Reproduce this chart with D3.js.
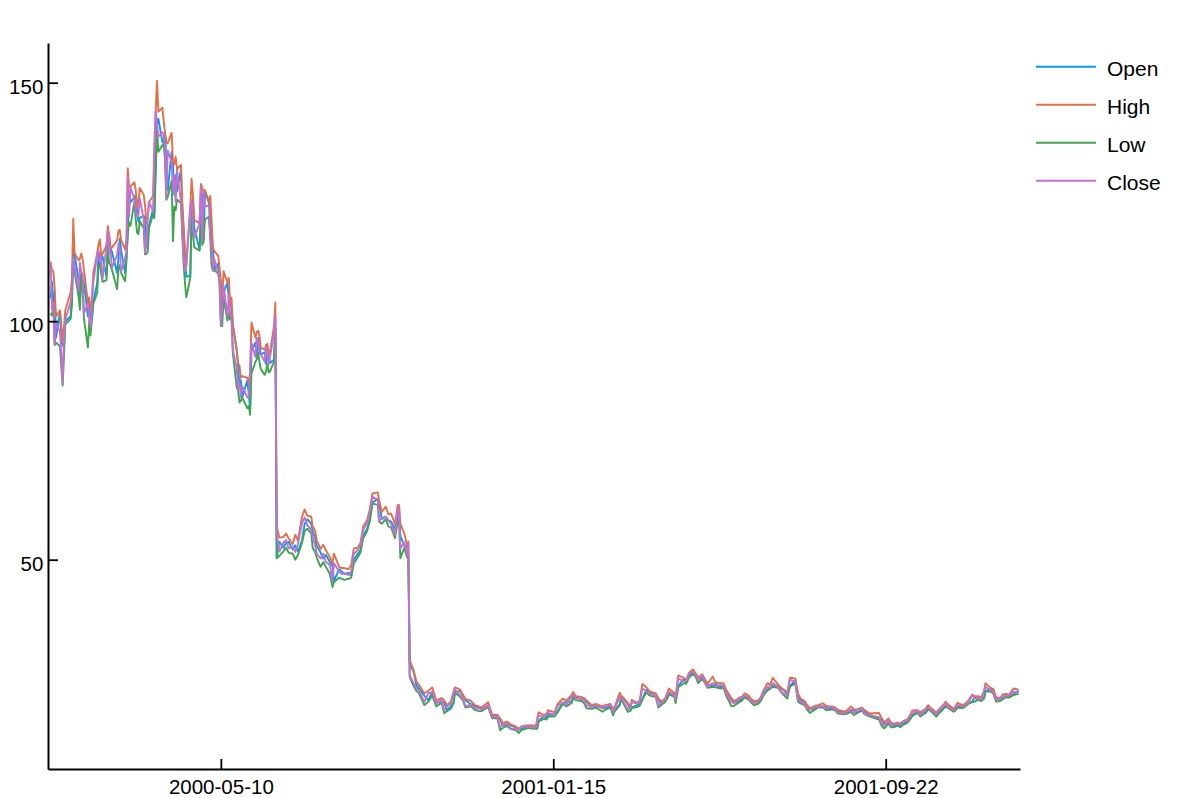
<!DOCTYPE html>
<html>
<head>
<meta charset="utf-8">
<script src="https://cdn.jsdelivr.net/npm/d3@7"></script>
<style>
  body { margin: 0; background: #fff; }
  svg { display: block; }
  text { font-family: "Liberation Sans", Arial, Helvetica, sans-serif; }
</style>
</head>
<body>
<div id="chart"></div>
<script>
var dates = [
  // 2000-01
  "2000-01-03","2000-01-04","2000-01-05","2000-01-06","2000-01-07","2000-01-10","2000-01-11","2000-01-12","2000-01-13","2000-01-14","2000-01-18","2000-01-19","2000-01-20","2000-01-21","2000-01-24","2000-01-25","2000-01-26","2000-01-27","2000-01-28","2000-01-31",
  // 2000-02
  "2000-02-01","2000-02-02","2000-02-03","2000-02-04","2000-02-07","2000-02-08","2000-02-09","2000-02-10","2000-02-11","2000-02-14","2000-02-15","2000-02-16","2000-02-17","2000-02-18","2000-02-22","2000-02-23","2000-02-24","2000-02-25","2000-02-28","2000-02-29",
  // 2000-03
  "2000-03-01","2000-03-02","2000-03-03","2000-03-06","2000-03-07","2000-03-08","2000-03-09","2000-03-10","2000-03-13","2000-03-14","2000-03-15","2000-03-16","2000-03-17","2000-03-20","2000-03-21","2000-03-22","2000-03-23","2000-03-24","2000-03-27","2000-03-28","2000-03-29","2000-03-30","2000-03-31",
  // 2000-04
  "2000-04-03","2000-04-04","2000-04-05","2000-04-06","2000-04-07","2000-04-10","2000-04-11","2000-04-12","2000-04-13","2000-04-14","2000-04-17","2000-04-18","2000-04-19","2000-04-20","2000-04-24","2000-04-25","2000-04-26","2000-04-27","2000-04-28",
  // 2000-05
  "2000-05-01","2000-05-02","2000-05-03","2000-05-04","2000-05-05","2000-05-08","2000-05-09","2000-05-10","2000-05-11","2000-05-12","2000-05-15","2000-05-16","2000-05-17","2000-05-18","2000-05-19","2000-05-22","2000-05-23","2000-05-24","2000-05-25","2000-05-26","2000-05-30","2000-05-31",
  // 2000-06 before split
  "2000-06-01","2000-06-02","2000-06-05","2000-06-06","2000-06-07","2000-06-08","2000-06-09","2000-06-12","2000-06-13","2000-06-14","2000-06-15","2000-06-16","2000-06-19","2000-06-20",
  // 2000-06 after split
  "2000-06-21","2000-06-23","2000-06-26","2000-06-28","2000-06-30",
  // 2000-07
  "2000-07-03","2000-07-05","2000-07-07","2000-07-10","2000-07-12","2000-07-14","2000-07-17","2000-07-18","2000-07-20","2000-07-21","2000-07-24","2000-07-26","2000-07-28","2000-07-31",
  // 2000-08
  "2000-08-02","2000-08-03","2000-08-07","2000-08-09","2000-08-11","2000-08-14","2000-08-16","2000-08-18","2000-08-21","2000-08-23","2000-08-25","2000-08-28","2000-08-30",
  // 2000-09
  "2000-09-01","2000-09-05","2000-09-06","2000-09-08","2000-09-11","2000-09-13","2000-09-15","2000-09-18","2000-09-20","2000-09-21","2000-09-22","2000-09-25","2000-09-27","2000-09-28","2000-09-29",
  // 2000-10
  "2000-10-02","2000-10-04","2000-10-06","2000-10-10","2000-10-13","2000-10-16","2000-10-19","2000-10-23","2000-10-25","2000-10-27","2000-10-30",
  // 2000-11
  "2000-11-01","2000-11-02","2000-11-06","2000-11-08","2000-11-10","2000-11-14","2000-11-17","2000-11-20","2000-11-22","2000-11-27","2000-11-30",
  // 2000-12
  "2000-12-04","2000-12-06","2000-12-08","2000-12-11","2000-12-14","2000-12-18","2000-12-20","2000-12-22","2000-12-26","2000-12-28","2000-12-29",
  // 2001-01
  "2001-01-02","2001-01-03","2001-01-04","2001-01-08","2001-01-10","2001-01-11","2001-01-16","2001-01-18","2001-01-22","2001-01-25","2001-01-29","2001-01-30",
  // 2001-02
  "2001-02-01","2001-02-05","2001-02-07","2001-02-09","2001-02-13","2001-02-16","2001-02-21","2001-02-23","2001-02-27",
  // 2001-03
  "2001-03-01","2001-03-02","2001-03-06","2001-03-07","2001-03-09","2001-03-12","2001-03-14","2001-03-15","2001-03-19","2001-03-21","2001-03-23","2001-03-26","2001-03-28","2001-03-30",
  // 2001-04
  "2001-04-02","2001-04-04","2001-04-06","2001-04-09","2001-04-11","2001-04-12","2001-04-16","2001-04-17","2001-04-19","2001-04-23","2001-04-25","2001-04-27","2001-04-30",
  // 2001-05
  "2001-05-02","2001-05-04","2001-05-07","2001-05-09","2001-05-11","2001-05-15","2001-05-17","2001-05-21","2001-05-23","2001-05-25","2001-05-29","2001-05-31",
  // 2001-06
  "2001-06-04","2001-06-06","2001-06-08","2001-06-11","2001-06-13","2001-06-15","2001-06-18","2001-06-20","2001-06-22","2001-06-25","2001-06-27","2001-06-29",
  // 2001-07
  "2001-07-03","2001-07-06","2001-07-10","2001-07-12","2001-07-16","2001-07-18","2001-07-20","2001-07-23","2001-07-25","2001-07-27","2001-07-31",
  // 2001-08
  "2001-08-02","2001-08-06","2001-08-08","2001-08-10","2001-08-13","2001-08-15","2001-08-17","2001-08-21","2001-08-23","2001-08-27","2001-08-29","2001-08-31",
  // 2001-09
  "2001-09-04","2001-09-06","2001-09-10","2001-09-17","2001-09-19","2001-09-21","2001-09-24","2001-09-26","2001-09-28",
  // 2001-10
  "2001-10-01","2001-10-03","2001-10-05","2001-10-08","2001-10-10","2001-10-12","2001-10-16","2001-10-18","2001-10-22","2001-10-24","2001-10-26","2001-10-30",
  // 2001-11
  "2001-11-01","2001-11-05","2001-11-06","2001-11-08","2001-11-12","2001-11-13","2001-11-15","2001-11-19","2001-11-21","2001-11-23","2001-11-26","2001-11-28","2001-11-30",
  // 2001-12
  "2001-12-03","2001-12-05","2001-12-06","2001-12-10","2001-12-12","2001-12-14","2001-12-17","2001-12-19","2001-12-21","2001-12-24","2001-12-27","2001-12-31"
];

var open = [
  104.87,108.25,103.75,106.12,96.50,102.00,95.94,95.00,94.48,100.00,101.00,105.62,115.50,114.00,108.44,105.00,110.00,108.81,108.19,101.00,
  104.00,100.75,100.31,103.94,108.00,114.00,114.12,112.87,113.62,109.31,115.25,117.75,115.19,114.62,110.12,113.23,117.31,114.81,110.12,113.56,
  118.56,127.00,124.87,126.00,126.44,122.87,120.87,121.69,122.12,121.22,115.62,117.31,120.12,123.50,122.56,132.78,142.00,142.44,137.62,137.25,139.37,133.56,127.44,
  135.50,132.63,126.47,130.63,127.25,131.69,123.50,119.00,113.00,109.31,109.50,123.50,126.19,119.50,115.00,122.12,126.62,117.19,127.12,
  124.87,123.25,118.94,115.12,110.81,112.09,110.31,108.06,101.37,106.00,108.06,104.52,103.62,103.00,99.25,93.75,90.50,86.19,87.62,84.00,87.62,84.50,
  81.75,93.75,95.50,92.50,96.50,95.75,93.00,93.50,91.00,94.00,92.50,91.25,92.00,98.50,
  50.50,53.78,52.50,53.50,53.75,
  52.12,53.00,51.75,54.00,57.50,58.50,57.50,56.00,54.50,53.00,51.50,50.25,51.00,49.50,
  48.75,45.50,48.00,47.50,47.00,47.25,46.75,50.00,51.25,52.00,55.00,56.50,58.50,
  62.00,62.75,62.00,58.50,59.00,58.25,58.00,56.50,58.50,61.00,55.00,53.00,52.50,51.25,28.19,
  26.50,23.75,23.00,21.50,20.50,22.25,20.00,20.25,20.00,18.50,19.25,
  20.00,22.25,22.50,21.50,20.50,19.75,19.25,19.00,18.75,19.25,17.31,
  17.25,16.50,15.25,15.50,15.25,14.87,14.37,14.50,15.00,15.00,15.06,
  14.87,14.87,16.25,17.25,16.87,17.50,17.50,18.00,20.00,20.12,20.25,21.56,
  21.12,20.75,20.75,20.25,19.25,19.25,19.00,18.87,19.25,
  18.50,18.25,19.75,21.25,20.75,19.75,18.62,19.00,19.50,19.75,20.75,22.75,22.25,22.00,
  21.87,20.75,19.75,20.37,21.25,22.00,21.87,21.12,23.50,25.00,24.25,25.50,26.50,
  26.00,25.12,25.25,24.87,23.75,23.50,24.00,23.25,23.50,22.50,20.75,20.00,
  20.37,20.87,21.25,21.25,20.50,20.12,20.00,20.50,21.75,22.75,23.25,23.50,
  23.62,22.87,22.00,23.50,24.75,21.50,20.50,20.25,19.25,18.62,18.75,
  19.25,19.25,19.12,18.75,19.00,18.87,18.25,18.00,17.87,18.25,18.50,17.87,
  18.50,18.25,17.50,16.75,16.50,15.50,15.75,15.75,15.12,
  15.50,15.25,15.62,16.00,16.50,17.37,18.00,17.87,18.00,18.75,18.75,17.87,
  17.87,19.00,19.50,19.50,18.62,18.75,19.12,19.25,19.37,19.87,20.25,21.12,20.87,
  21.00,21.00,22.50,22.87,22.62,20.87,20.50,20.87,21.50,21.37,21.75,22.50
];

var high = [
  112.50,110.62,110.56,107.00,101.00,102.25,99.37,95.50,98.75,102.25,106.00,108.75,121.50,114.25,112.75,113.12,114.19,113.00,110.87,103.87,
  105.00,102.12,104.25,110.00,114.25,116.12,117.12,113.87,114.12,115.87,119.94,118.12,115.50,115.37,116.94,119.00,119.12,117.00,115.00,117.25,
  132.06,127.94,128.23,129.13,127.44,123.94,125.00,127.94,126.50,124.25,120.25,122.00,125.00,126.25,136.75,144.38,150.38,143.94,144.75,142.00,139.44,137.69,137.25,
  139.50,133.00,132.88,134.50,131.88,132.75,124.75,119.87,115.00,111.50,123.94,129.87,126.25,121.25,120.50,128.75,128.00,127.00,127.50,
  125.12,126.25,121.25,115.25,114.75,113.69,111.25,108.06,104.25,110.50,108.06,109.06,103.69,104.94,99.25,93.75,91.12,90.75,88.12,88.50,88.12,86.62,
  89.56,99.75,96.50,97.75,98.00,97.00,94.50,94.00,95.00,95.25,93.00,93.50,99.00,103.94,
  56.94,54.63,54.75,55.50,54.50,
  53.25,55.25,54.00,59.00,60.50,59.25,59.00,57.00,56.00,54.12,52.25,53.12,52.00,50.50,
  49.25,51.25,48.50,48.25,48.25,48.00,48.87,52.37,52.50,53.50,56.94,58.31,60.50,
  63.87,64.12,62.50,60.00,61.12,59.50,59.69,57.50,61.50,61.50,57.50,55.50,53.00,53.81,29.00,
  26.75,24.50,23.75,22.00,22.50,23.25,20.50,21.00,20.50,19.50,20.25,
  22.37,23.25,22.75,21.75,20.75,20.44,19.50,19.25,19.00,20.12,17.50,
  17.50,16.75,15.75,16.06,15.50,15.00,14.50,15.06,15.25,15.31,15.25,
  15.25,16.75,18.00,17.44,17.75,18.44,18.00,19.62,20.87,20.44,21.75,22.25,
  21.37,21.25,21.00,20.50,19.50,19.75,19.25,19.50,19.75,
  18.75,19.00,22.12,21.50,21.00,20.00,19.12,20.62,20.00,20.50,23.94,23.25,22.50,22.25,
  22.00,21.00,20.25,20.87,22.25,23.00,22.00,21.37,25.75,25.25,24.75,26.25,27.00,
  26.25,25.25,26.00,25.00,24.00,25.50,24.25,24.12,24.12,22.75,21.00,20.25,
  21.12,21.25,22.00,21.50,20.75,20.37,20.50,21.12,22.50,24.12,23.75,25.25,
  23.87,23.00,22.25,25.25,25.12,22.00,20.87,20.37,19.50,18.87,19.37,
  19.50,19.87,19.37,19.25,19.25,19.00,18.50,18.25,18.25,19.25,18.62,18.62,
  19.00,18.50,17.75,17.87,16.75,15.87,16.75,15.87,15.62,
  15.87,15.62,16.12,16.50,17.25,18.37,18.44,18.00,18.75,19.50,18.87,18.00,
  18.62,19.75,20.25,19.62,18.75,19.00,20.00,19.50,19.87,20.37,21.75,21.37,21.37,
  21.25,22.50,24.12,23.12,22.87,21.12,21.00,21.75,21.87,21.75,23.00,22.75
];

var low = [
  101.69,101.19,103.00,95.00,95.50,94.75,90.50,86.50,92.50,99.37,100.44,103.37,113.50,110.19,105.12,102.37,109.75,107.00,100.62,94.50,
  100.00,97.00,100.25,103.62,105.94,111.25,112.44,110.00,108.25,108.62,115.19,112.12,111.75,110.87,106.69,111.00,111.75,110.12,108.37,112.56,
  118.50,120.69,120.00,125.00,121.12,118.56,118.25,121.00,119.50,114.00,114.12,114.50,119.62,122.37,121.62,131.56,140.00,135.50,136.87,137.12,133.83,125.44,126.00,
  129.44,116.75,124.00,123.25,125.50,124.75,118.00,112.00,108.00,105.00,109.06,121.00,118.50,115.50,114.75,122.06,116.00,116.58,121.31,
  121.87,117.50,111.62,110.56,110.72,110.00,108.06,99.00,99.00,104.77,100.12,101.62,100.37,100.62,93.37,86.00,85.50,83.00,83.25,84.00,81.75,82.25,
  80.37,89.00,91.50,92.00,93.50,91.50,90.00,88.75,89.50,91.00,89.25,89.50,91.50,98.37,
  50.31,50.81,51.75,52.50,51.50,
  51.25,50.00,51.00,53.50,56.00,56.50,55.50,52.50,51.50,50.50,48.50,49.50,48.50,47.00,
  44.25,45.25,46.25,46.00,45.75,46.00,46.25,49.25,50.50,51.50,54.50,56.00,58.00,
  61.75,61.50,58.00,57.50,58.50,57.00,56.75,54.50,58.00,58.50,50.31,52.50,50.50,50.50,25.37,
  23.50,22.50,22.00,19.50,20.25,21.50,19.25,20.00,17.81,18.25,18.75,
  19.87,22.12,21.25,20.50,19.00,19.25,18.50,18.25,18.25,19.12,16.75,
  16.75,14.25,14.75,15.12,14.50,14.25,13.62,14.25,14.62,14.75,14.62,
  14.56,14.56,16.12,16.62,16.50,17.12,17.12,17.87,19.75,19.25,20.00,21.12,
  20.50,20.37,20.00,18.87,18.75,19.00,18.12,18.50,19.00,
  17.37,18.12,19.50,20.75,19.75,18.12,18.25,18.87,19.12,19.37,20.62,22.25,21.62,21.37,
  21.25,19.00,19.50,20.12,21.00,21.75,21.25,19.87,23.25,24.12,24.00,25.25,26.12,
  25.50,24.12,25.12,24.12,23.12,23.37,23.25,23.00,23.12,21.50,19.25,19.37,
  20.12,20.50,21.12,20.62,20.00,19.50,19.75,20.37,21.50,22.62,22.87,23.37,
  23.12,22.00,20.87,23.37,24.12,20.25,19.87,19.50,18.50,17.87,18.62,
  19.00,19.00,18.50,18.50,18.62,18.37,17.75,17.62,17.62,18.12,17.37,17.75,
  18.37,17.62,17.12,16.50,15.12,14.62,15.62,14.87,14.87,
  15.25,14.87,15.37,15.75,16.37,17.25,17.87,17.12,17.87,18.62,18.25,17.12,
  17.75,18.87,19.25,18.87,18.12,18.25,19.00,18.87,19.25,19.75,20.12,20.25,20.62,
  20.37,20.87,22.37,22.37,21.87,20.25,20.37,20.75,21.12,21.12,21.62,21.87
];

var close = [
  111.94,102.50,104.00,95.00,99.50,97.75,92.75,87.19,96.75,100.44,103.94,106.56,113.50,111.31,106.25,112.25,110.19,110.00,101.62,103.75,
  100.25,98.81,103.31,108.00,114.06,114.87,112.62,113.50,108.75,115.81,119.00,114.12,114.87,111.25,113.81,116.25,115.20,110.37,113.25,114.62,
  130.31,122.00,128.00,125.69,122.87,122.00,122.25,125.75,121.31,114.25,116.25,121.56,125.00,123.00,134.94,144.19,141.31,138.69,139.56,139.12,135.94,125.75,135.81,
  133.31,127.31,130.38,125.00,131.75,125.00,119.00,113.81,110.50,111.87,123.88,125.25,119.50,117.50,120.50,128.31,116.75,126.94,124.06,
  124.31,117.87,115.06,110.69,113.12,110.12,108.31,99.31,102.81,107.62,101.00,105.69,101.37,100.75,94.00,89.94,85.81,87.27,84.12,86.37,84.00,84.00,
  89.12,95.50,92.50,96.50,95.75,93.25,93.00,91.50,94.50,92.87,91.00,92.50,97.50,101.25,
  55.62,51.69,53.50,54.12,52.37,
  52.75,51.62,53.25,57.62,58.87,57.25,56.25,54.75,53.00,51.25,50.25,51.25,49.50,48.87,
  45.50,49.25,47.50,47.00,47.12,46.75,47.50,51.25,52.00,53.00,56.25,57.75,60.00,
  63.25,62.50,58.00,58.75,59.00,58.12,57.62,55.25,61.12,59.00,52.37,53.62,51.00,53.50,25.75,
  24.06,23.00,22.62,20.12,22.00,22.25,19.87,20.62,18.37,19.25,19.87,
  22.00,22.75,21.62,20.87,19.25,19.62,18.87,18.81,18.62,19.50,17.06,
  17.12,14.87,15.44,15.69,14.62,14.50,14.31,15.00,15.00,15.12,14.88,
  14.87,16.37,17.37,17.00,17.56,17.87,17.50,19.25,20.12,19.50,21.50,21.75,
  20.87,20.87,20.50,19.50,19.12,19.50,18.75,19.25,19.50,
  18.12,18.75,21.25,21.00,20.12,18.62,18.87,20.12,19.87,20.12,23.00,22.50,22.00,21.62,
  21.50,19.37,19.87,20.62,21.87,22.31,21.62,20.62,25.12,24.50,24.62,26.12,26.50,
  25.87,24.75,25.75,24.25,23.37,24.12,23.44,23.75,23.37,21.87,20.25,19.87,
  20.87,21.00,21.62,20.87,20.25,20.00,20.25,20.87,22.25,23.37,23.12,24.12,
  23.37,22.12,21.56,24.87,24.37,20.62,20.25,19.75,18.75,18.50,19.12,
  19.25,19.25,18.75,19.00,19.12,18.50,18.00,17.87,18.00,18.62,17.62,18.50,
  18.75,17.75,17.37,16.99,15.62,15.25,16.37,15.12,15.50,
  15.62,15.50,16.00,16.25,17.00,17.87,18.37,17.50,18.62,19.00,18.50,17.62,
  18.50,19.50,19.87,19.00,18.50,18.75,19.50,19.25,19.62,19.87,21.62,20.87,21.12,
  20.62,22.37,23.37,22.62,22.12,20.62,20.75,21.62,21.37,21.50,22.37,21.90
];

var seriesNames = ["Open", "High", "Low", "Close"];
var seriesColors = ["#009AFA", "#E36F47", "#3EA44E", "#C271D2"];
var yTicks = [50, 100, 150];
var xTicks = ["2000-05-10", "2001-01-15", "2001-09-22"];

var W = 1182, H = 798;
var plotLeft = 48, plotRight = 1020, plotTop = 43, plotBottom = 769;
var fontSize = 20.5;

var parseDate = d3.timeParse("%Y-%m-%d");
var fmtDate = d3.timeFormat("%Y-%m-%d");

var svg = d3.select("#chart")
  .append("svg")
  .attr("width", W)
  .attr("height", H)
  .style("background", "#fff");

var x = d3.scaleTime()
  .domain([parseDate("2000-01-01"), parseDate("2002-01-01")])
  .range([plotLeft, plotRight]);

var y = d3.scaleLinear()
  .domain([6.12, 158.32])
  .range([plotBottom, plotTop]);

var parsed = dates.map(parseDate);
var values = [open, high, low, close];

var series = seriesNames.map(function(name, i) {
  return {
    name: name,
    color: seriesColors[i],
    points: parsed.map(function(d, j) { return { date: d, v: values[i][j] }; })
  };
});

var line = d3.line()
  .x(function(d) { return x(d.date); })
  .y(function(d) { return y(d.v); });

// lines
svg.append("g")
  .selectAll("path")
  .data(series)
  .enter()
  .append("path")
  .attr("fill", "none")
  .attr("stroke", function(d) { return d.color; })
  .attr("stroke-width", 1.9)
  .attr("stroke-linejoin", "round")
  .attr("d", function(d) { return line(d.points); });

// x axis, ticks point inward
var xAxis = svg.append("g")
  .attr("transform", "translate(0," + plotBottom + ")")
  .call(d3.axisBottom(x)
    .tickValues(xTicks.map(parseDate))
    .tickFormat(fmtDate)
    .tickSizeInner(-10)
    .tickSizeOuter(0)
    .tickPadding(10.5));

// y axis
var yAxis = svg.append("g")
  .attr("transform", "translate(" + plotLeft + ",0)")
  .call(d3.axisLeft(y)
    .tickValues(yTicks)
    .tickSizeInner(-10)
    .tickSizeOuter(0)
    .tickPadding(4.7));

yAxis.selectAll("text").attr("dy", "0.52em");

[xAxis, yAxis].forEach(function(ax) {
  ax.select(".domain").attr("stroke", "#000").attr("stroke-width", 2);
  ax.selectAll(".tick line").attr("stroke", "#000").attr("stroke-width", 1.8);
  ax.selectAll("text")
    .attr("fill", "#000")
    .style("font-size", fontSize + "px")
    .style("font-family", "'Liberation Sans', Arial, Helvetica, sans-serif");
});

// legend
var legend = svg.append("g");
var rows = legend.selectAll("g")
  .data(series)
  .enter()
  .append("g")
  .attr("transform", function(d, i) { return "translate(1036," + (66.7 + i * 38) + ")"; });

rows.append("line")
  .attr("x1", 0)
  .attr("x2", 60)
  .attr("stroke", function(d) { return d.color; })
  .attr("stroke-width", 2);

rows.append("text")
  .attr("x", 71)
  .attr("y", 9.6)
  .style("font-size", "21px")
  .attr("fill", "#000")
  .text(function(d) { return d.name; });
</script>
</body>
</html>
